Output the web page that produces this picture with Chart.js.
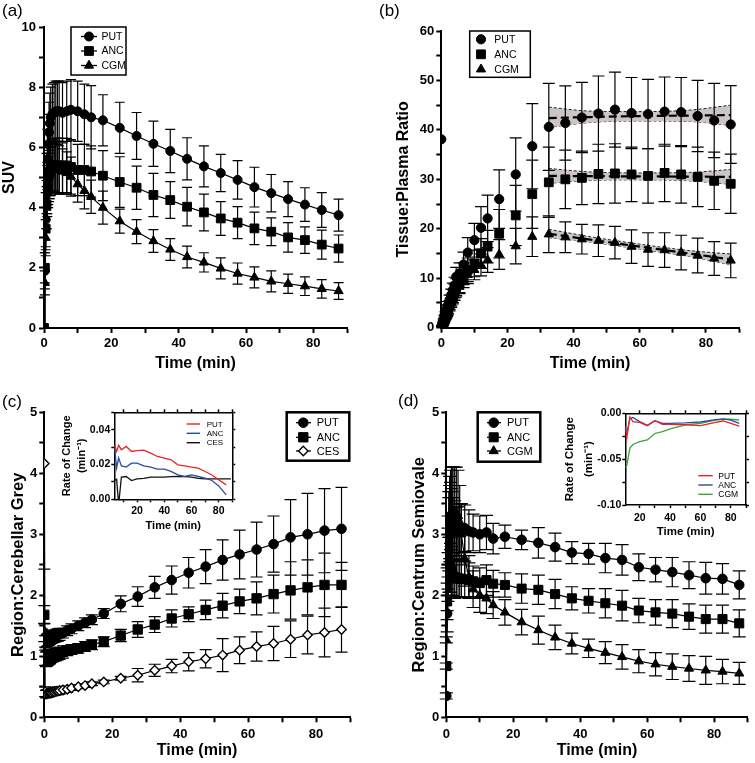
<!DOCTYPE html>
<html><head><meta charset="utf-8">
<script src="https://cdn.jsdelivr.net/npm/chart.js"></script>
<style>
body{margin:0;background:#fff;width:755px;height:763px;position:relative;overflow:hidden;font-family:'Liberation Sans',Arial,sans-serif}
canvas{position:absolute}
.lbl{position:absolute;font-size:17px;line-height:17px;color:#000}
</style></head><body>
<canvas id="ca" width="377" height="380" style="left:0;top:0"></canvas>
<canvas id="cb" width="378" height="380" style="left:377px;top:0"></canvas>
<canvas id="cc" width="377" height="383" style="left:0;top:380px"></canvas>
<canvas id="cd" width="378" height="383" style="left:377px;top:380px"></canvas>
<canvas id="ic" width="185" height="140" style="left:55px;top:395px"></canvas>
<canvas id="id" width="195" height="150" style="left:560px;top:395px"></canvas>
<div class="lbl" style="left:2px;top:2px">(a)</div>
<div class="lbl" style="left:379px;top:2px">(b)</div>
<div class="lbl" style="left:2px;top:393px">(c)</div>
<div class="lbl" style="left:398px;top:392px">(d)</div>
<script>
// ---------------- DATA ----------------
const T = [0, 0.25, 0.5, 0.75, 1, 1.25, 1.5, 1.75, 2, 2.5, 3, 3.5, 4, 4.5, 5.5, 6.75, 8, 10, 12, 14, 17.5, 22.5, 27.5, 32.5, 37.5, 42.5, 47.5, 52.5, 57.5, 62.5, 67.5, 72.5, 77.5, 82.5, 87.5];
const seriesNames = ['PUT', 'ANC', 'CGM'];
const seriesNamesC = ['PUT', 'ANC', 'CES'];

// (a) SUV
const suvPUT = [0, 1.9, 3.6, 4.8, 5.6, 6.1, 6.5, 6.8, 7.0, 7.1, 7.15, 7.2, 7.2, 7.2, 7.15, 7.2, 7.25, 7.2, 7.1, 7.0, 6.9, 6.65, 6.38, 6.12, 5.88, 5.62, 5.37, 5.15, 4.92, 4.68, 4.48, 4.28, 4.1, 3.92, 3.75];
const suvPUTerr = [0, 0.6, 0.9, 1.0, 1.0, 1.0, 1.0, 1.0, 1.0, 1.0, 1.0, 1.0, 1.0, 1.0, 1.0, 1.0, 1.0, 1.0, 1.0, 1.05, 0.85, 0.85, 0.78, 0.75, 0.72, 0.7, 0.68, 0.62, 0.64, 0.66, 0.62, 0.58, 0.56, 0.58, 0.53];
const suvANC = [0, 2.0, 3.3, 4.1, 4.6, 4.9, 5.1, 5.2, 5.3, 5.35, 5.4, 5.4, 5.4, 5.4, 5.4, 5.4, 5.35, 5.25, 5.25, 5.2, 5.06, 4.85, 4.66, 4.42, 4.25, 4.03, 3.84, 3.64, 3.5, 3.31, 3.2, 3.01, 2.92, 2.77, 2.64];
const suvANCerr = [0, 0.5, 0.7, 0.8, 0.9, 0.9, 0.9, 0.9, 0.9, 0.9, 0.9, 0.9, 0.9, 0.9, 0.9, 0.9, 0.9, 0.85, 0.85, 0.85, 0.83, 0.84, 0.72, 0.72, 0.61, 0.64, 0.61, 0.56, 0.53, 0.54, 0.46, 0.49, 0.44, 0.48, 0.45];
const suvCGM = [0, 1.5, 3.0, 4.0, 4.6, 4.9, 5.1, 5.2, 5.3, 5.35, 5.35, 5.3, 5.3, 5.25, 5.2, 5.15, 5.03, 4.78, 4.56, 4.36, 4.0, 3.55, 3.2, 2.89, 2.61, 2.36, 2.18, 1.98, 1.81, 1.68, 1.55, 1.47, 1.39, 1.3, 1.23];
const suvCGMerr = [0, 0.4, 0.6, 0.7, 0.8, 0.8, 0.8, 0.8, 0.8, 0.8, 0.8, 0.8, 0.8, 0.8, 0.75, 0.7, 0.65, 0.6, 0.6, 0.55, 0.55, 0.4, 0.4, 0.38, 0.36, 0.36, 0.32, 0.35, 0.35, 0.35, 0.35, 0.32, 0.31, 0.31, 0.28];

// (b) Tissue:Plasma ratio
const tpPUT = [38.1, 0.4, 0.9, 1.5, 2.1, 2.7, 3.3, 3.9, 4.5, 5.6, 6.6, 7.6, 8.6, 10.3, 11.0, 12.8, 15.2, 17.7, 20.2, 22.1, 26.0, 31.0, 36.7, 40.6, 41.4, 42.5, 43.3, 44.1, 43.4, 43.2, 43.7, 43.6, 42.8, 41.9, 41.1];
const tpPUTerr = [0, 0.1, 0.2, 0.3, 0.4, 0.5, 0.6, 0.7, 0.8, 1.0, 1.2, 1.4, 1.6, 1.9, 2.1, 2.5, 3.0, 3.4, 4.3, 4.7, 5.9, 7.4, 8.6, 8.8, 7.5, 7.1, 7.6, 7.6, 7.2, 7.0, 7.0, 7.0, 7.2, 7.5, 7.85];
const tpANC = [1.5, 0.3, 0.7, 1.2, 1.7, 2.2, 2.7, 3.2, 3.7, 4.6, 5.5, 6.4, 7.3, 8.2, 9.0, 10.9, 11.7, 13.0, 15.0, 16.4, 19.0, 22.7, 27.0, 29.4, 30.0, 30.3, 31.1, 31.2, 31.0, 30.7, 31.3, 31.0, 30.5, 29.7, 29.1];
const tpANCerr = [0, 0.1, 0.2, 0.3, 0.4, 0.5, 0.6, 0.7, 0.8, 0.9, 1.1, 1.3, 1.5, 1.7, 1.9, 2.2, 2.4, 2.7, 3.0, 3.3, 4.9, 6.1, 6.9, 7.1, 5.9, 5.4, 6.0, 6.0, 5.5, 5.5, 5.8, 5.8, 6.0, 5.8, 6.0];
const tpCGM = [0.8, 0.2, 0.6, 1.0, 1.5, 2.0, 2.4, 2.9, 3.3, 4.2, 5.0, 5.8, 6.6, 7.4, 8.3, 9.7, 10.7, 11.7, 12.7, 13.7, 14.8, 16.5, 18.4, 18.9, 18.3, 17.9, 17.6, 17.2, 16.4, 15.8, 15.7, 15.2, 14.6, 14.0, 13.6];
const tpCGMerr = [0, 0.1, 0.15, 0.2, 0.3, 0.4, 0.5, 0.6, 0.7, 0.8, 0.9, 1.0, 1.1, 1.2, 1.4, 1.6, 1.8, 2.0, 2.2, 2.5, 3.0, 3.6, 4.0, 3.7, 3.1, 3.0, 3.2, 3.3, 3.4, 3.4, 3.5, 3.5, 3.5, 3.4, 3.5];
const fitT = [32.5, 45, 60, 75, 87.5];
const putFit = [42.4, 42.6, 42.8, 42.9, 43.0];
const putUpper = [44.6, 43.8, 43.7, 44.0, 45.0];
const putLower = [40.5, 41.5, 41.8, 41.7, 40.9];
const ancFit = [30.7, 30.65, 30.6, 30.55, 30.5];
const ancUpper = [32.2, 31.5, 31.3, 31.4, 32.0];
const ancLower = [29.2, 29.8, 29.9, 29.7, 29.0];
const cgmFit = [19.0, 17.8, 16.4, 15.0, 13.8];
const cgmUpper = [19.9, 18.4, 16.9, 15.6, 14.9];
const cgmLower = [18.2, 17.3, 15.9, 14.4, 12.7];

// (c) Region:Cerebellar Grey
const cgPUT = [1.39, 1.22, 1.24, 1.26, 1.27, 1.28, 1.29, 1.3, 1.31, 1.32, 1.33, 1.34, 1.35, 1.36, 1.38, 1.42, 1.45, 1.5, 1.55, 1.6, 1.70, 1.86, 1.98, 2.13, 2.25, 2.37, 2.47, 2.58, 2.67, 2.75, 2.84, 2.95, 3.0, 3.06, 3.09];
const cgPUTerr = [0.15, 0.12, 0.1, 0.1, 0.1, 0.1, 0.1, 0.1, 0.1, 0.1, 0.1, 0.1, 0.1, 0.1, 0.08, 0.08, 0.08, 0.08, 0.08, 0.08, 0.08, 0.13, 0.16, 0.18, 0.23, 0.25, 0.28, 0.33, 0.4, 0.45, 0.46, 0.62, 0.67, 0.69, 0.68];
const cgANC = [1.68, 1.0, 0.95, 0.96, 0.97, 0.98, 0.99, 1.0, 1.0, 1.01, 1.02, 1.03, 1.04, 1.05, 1.07, 1.09, 1.11, 1.13, 1.16, 1.19, 1.24, 1.34, 1.44, 1.52, 1.62, 1.69, 1.76, 1.83, 1.9, 1.95, 2.02, 2.08, 2.13, 2.17, 2.17];
const cgANCerr = [0.15, 0.15, 0.12, 0.12, 0.12, 0.12, 0.12, 0.12, 0.1, 0.1, 0.1, 0.1, 0.1, 0.1, 0.1, 0.08, 0.08, 0.08, 0.08, 0.08, 0.08, 0.1, 0.13, 0.13, 0.14, 0.12, 0.16, 0.2, 0.2, 0.27, 0.31, 0.47, 0.45, 0.52, 0.37];
const cgCES = [4.16, 0.42, 0.38, 0.39, 0.39, 0.4, 0.4, 0.41, 0.41, 0.42, 0.42, 0.43, 0.43, 0.44, 0.45, 0.46, 0.48, 0.5, 0.52, 0.55, 0.58, 0.64, 0.69, 0.77, 0.84, 0.91, 0.96, 1.02, 1.1, 1.16, 1.21, 1.28, 1.35, 1.39, 1.44];
const cgCESerr = [1.73, 0.08, 0.06, 0.06, 0.06, 0.06, 0.06, 0.06, 0.06, 0.06, 0.06, 0.06, 0.06, 0.06, 0.05, 0.05, 0.04, 0.03, 0.03, 0.03, 0.03, 0.03, 0.11, 0.1, 0.11, 0.15, 0.15, 0.27, 0.22, 0.24, 0.28, 0.3, 0.31, 0.4, 0.37];

// (d) Region:Centrum Semiovale
const csPUT = [0.35, 1.7, 2.6, 3.0, 3.2, 3.3, 3.25, 3.2, 3.15, 3.1, 3.05, 3.05, 3.1, 3.1, 3.1, 3.05, 3.03, 3.0, 3.03, 2.93, 2.96, 2.91, 2.86, 2.79, 2.7, 2.68, 2.61, 2.58, 2.46, 2.42, 2.38, 2.33, 2.28, 2.27, 2.17];
const csPUTerr = [0.05, 0.3, 0.5, 0.6, 0.6, 0.55, 0.5, 0.5, 0.45, 0.45, 0.4, 0.4, 0.4, 0.4, 0.38, 0.35, 0.3, 0.3, 0.28, 0.25, 0.19, 0.16, 0.25, 0.23, 0.18, 0.17, 0.24, 0.25, 0.22, 0.2, 0.24, 0.22, 0.26, 0.25, 0.23];
const csANC = [0.84, 1.9, 2.3, 2.5, 2.5, 2.45, 2.4, 2.35, 2.3, 2.3, 2.28, 2.28, 2.27, 2.27, 2.26, 2.25, 2.23, 2.2, 2.25, 2.19, 2.17, 2.11, 2.09, 2.02, 1.95, 1.91, 1.87, 1.83, 1.75, 1.72, 1.7, 1.65, 1.61, 1.61, 1.54];
const csANCerr = [0.05, 0.3, 0.4, 0.45, 0.45, 0.4, 0.4, 0.35, 0.35, 0.35, 0.3, 0.3, 0.3, 0.3, 0.3, 0.28, 0.25, 0.25, 0.25, 0.22, 0.2, 0.24, 0.24, 0.24, 0.19, 0.2, 0.24, 0.25, 0.2, 0.21, 0.23, 0.21, 0.23, 0.23, 0.22];
const csCGM = [1.27, 2.1, 2.8, 3.1, 3.25, 3.3, 3.35, 3.35, 3.35, 3.35, 3.35, 3.3, 3.2, 3.0, 2.6, 2.3, 2.1, 2.0, 1.95, 1.84, 1.72, 1.56, 1.43, 1.31, 1.21, 1.13, 1.06, 0.99, 0.92, 0.87, 0.83, 0.8, 0.77, 0.75, 0.72];
const csCGMerr = [0.05, 0.35, 0.5, 0.6, 0.7, 0.75, 0.75, 0.75, 0.75, 0.75, 0.75, 0.75, 0.6, 0.5, 0.45, 0.35, 0.3, 0.28, 0.25, 0.22, 0.21, 0.21, 0.23, 0.2, 0.17, 0.15, 0.18, 0.2, 0.19, 0.19, 0.21, 0.21, 0.23, 0.2, 0.18];

// insets: rate of change
const rateTC = [3.5, 5, 6.5, 8.5, 12, 16, 20, 25, 30, 35, 40, 45, 50, 55, 60, 65, 70, 75, 80, 85.5];
const rateTC_CES = [3.5, 5, 6.5, 8.5, 12, 16, 20, 25, 30, 35, 40, 45, 50, 55, 60, 65, 70, 75, 80, 89];
const ratePUT_C = [0.0313, 0.0275, 0.031, 0.0285, 0.0304, 0.0275, 0.028, 0.0283, 0.0265, 0.0246, 0.0237, 0.0227, 0.0198, 0.0192, 0.0185, 0.0179, 0.016, 0.014, 0.0112, 0.0083];
const rateANC_C = [0.030, 0.018, 0.0237, 0.0192, 0.0185, 0.0208, 0.0208, 0.0192, 0.0185, 0.0173, 0.0173, 0.016, 0.014, 0.0131, 0.014, 0.0131, 0.0121, 0.0108, 0.0077, 0.0025];
const rateCES_C = [0.011, 0.0115, -0.003, 0.0128, 0.0131, 0.0108, 0.0117, 0.012, 0.0127, 0.0127, 0.0127, 0.013, 0.0131, 0.013, 0.0127, 0.012, 0.0117, 0.0117, 0.0117, 0.0117];
const rateTD = [10.5, 11.5, 13.5, 15.5, 20, 25, 30, 35, 40, 50, 60, 70, 75, 80, 85.5];
const ratePUT_D = [-0.014, -0.027, -0.004, -0.009, -0.0098, -0.0135, -0.008, -0.012, -0.012, -0.0125, -0.0135, -0.0098, -0.0084, -0.011, -0.014];
const rateANC_D = [-0.018, -0.022, -0.006, -0.0045, -0.009, -0.013, -0.008, -0.011, -0.011, -0.0105, -0.0095, -0.007, -0.006, -0.0075, -0.011];
const rateCGM_D = [-0.059, -0.057, -0.038, -0.034, -0.031, -0.029, -0.022, -0.02, -0.017, -0.0127, -0.011, -0.0075, -0.0065, -0.0065, -0.0073];

// ---------------- HELPERS ----------------
const FONT = "'Liberation Sans', Arial, Helvetica, sans-serif";
Chart.defaults.font.family = FONT;
Chart.defaults.color = '#000';
const toXY = (xs, ys) => xs.map((x, i) => ({x: x, y: ys[i]}));
const isMult = (v, s) => Math.abs(v / s - Math.round(v / s)) < 1e-6;

function mkAxis(o) {
  const vals = [];
  for (let i = 0; ; i++) { const v = +(o.first + i * o.step).toFixed(6); if (v > o.max + 1e-9) break; vals.push(v); }
  const horiz = (o.pos === 'bottom' || o.pos === 'top');
  return {
    type: 'linear', position: o.pos, min: o.min, max: o.max,
    border: {display: true, color: '#000', width: o.bw},
    grid: {display: true, drawOnChartArea: false, drawTicks: true, tickLength: o.tl, tickWidth: o.bw, tickColor: '#000'},
    ticks: {display: o.labels !== false, color: '#000', autoSkip: false, maxRotation: 0, minRotation: 0,
      padding: o.tp || 0, font: {family: FONT, size: o.fs || 13, weight: 'bold'},
      callback: (v) => (o.labelStep && isMult(v, o.labelStep)) ? o.fmt(v) : ''},
    title: o.title ? {display: true, text: o.title, color: '#000',
      font: {family: FONT, size: o.tfs, weight: 'bold', lineHeight: o.tlh || 1.2},
      padding: {top: o.ttop || 0, bottom: o.tbot || 0}} : {display: false},
    afterBuildTicks: (s) => { s.ticks = vals.map(v => ({value: v})); },
    afterFit: (s) => { if (horiz) s.height = o.size; else s.width = o.size; }
  };
}

function drawMarker(ctx, style, x, y, r, fill, lw) {
  ctx.save();
  ctx.beginPath();
  if (style === 'circle') ctx.arc(x, y, r, 0, Math.PI * 2);
  else if (style === 'rect') { const s = Math.SQRT1_2 * r; ctx.rect(x - s, y - s, 2 * s, 2 * s); }
  else if (style === 'triangle') {
    ctx.moveTo(x, y - r);
    ctx.lineTo(x + Math.sin(2 * Math.PI / 3) * r, y - Math.cos(2 * Math.PI / 3) * r);
    ctx.lineTo(x + Math.sin(4 * Math.PI / 3) * r, y - Math.cos(4 * Math.PI / 3) * r);
    ctx.closePath();
  } else if (style === 'rectRot') {
    ctx.moveTo(x - r, y); ctx.lineTo(x, y - r); ctx.lineTo(x + r, y); ctx.lineTo(x, y + r); ctx.closePath();
  }
  ctx.fillStyle = fill || '#000'; ctx.fill();
  ctx.lineWidth = lw || 1; ctx.strokeStyle = '#000'; ctx.stroke();
  ctx.restore();
}

function errorBarPlugin(cap, width) {
  return {
    id: 'errorBars',
    beforeDatasetDraw(chart, args) {
      const ds = chart.data.datasets[args.index];
      if (!ds.errors) return;
      const meta = args.meta, ctx = chart.ctx, ys = chart.scales[meta.yAxisID], a = chart.chartArea;
      ctx.save();
      ctx.beginPath(); ctx.rect(a.left - 20, a.top, a.right - a.left + 40, a.bottom - a.top); ctx.clip();
      ctx.strokeStyle = '#000'; ctx.lineWidth = width;
      meta.data.forEach((pt, i) => {
        const e = ds.errors[i]; if (!e) return;
        const v = ds.data[i].y, x = pt.x;
        const y1 = ys.getPixelForValue(v + e), y2 = ys.getPixelForValue(v - e);
        ctx.beginPath();
        ctx.moveTo(x, y1); ctx.lineTo(x, y2);
        ctx.moveTo(x - cap, y1); ctx.lineTo(x + cap, y1);
        ctx.moveTo(x - cap, y2); ctx.lineTo(x + cap, y2);
        ctx.stroke();
      });
      ctx.restore();
    }
  };
}

function legendPlugin(cfg) {
  return {
    id: 'boxLegend',
    afterDraw(chart) {
      const ctx = chart.ctx;
      ctx.save();
      if (cfg.box) { ctx.lineWidth = cfg.box.lw; ctx.strokeStyle = '#000'; ctx.strokeRect(cfg.box.x, cfg.box.y, cfg.box.w, cfg.box.h); }
      cfg.items.forEach(it => {
        if (cfg.line) {
          ctx.strokeStyle = it.color || '#000'; ctx.lineWidth = cfg.lineW || 1.3;
          ctx.beginPath(); ctx.moveTo(cfg.line[0], it.y); ctx.lineTo(cfg.line[1], it.y); ctx.stroke();
        }
        if (it.marker) drawMarker(ctx, it.marker, cfg.mx, it.y, it.r, it.fill, it.lw);
        ctx.font = cfg.font; ctx.textBaseline = 'middle'; ctx.textAlign = 'left'; ctx.fillStyle = '#000';
        ctx.fillText(it.label, cfg.tx, it.y + 0.5);
      });
      ctx.restore();
    }
  };
}

function ptDs(label, xs, ys, errs, style, r, extra) {
  return Object.assign({
    label: label, data: toXY(xs, ys), errors: errs,
    borderColor: '#000', backgroundColor: '#000', borderWidth: 1.2,
    pointStyle: style, pointRadius: r, pointBackgroundColor: '#000', pointBorderColor: '#000', pointBorderWidth: 1,
    tension: 0, fill: false, order: 0
  }, extra || {});
}

const baseOpts = (padding, scales) => ({
  responsive: false, animation: false, devicePixelRatio: 1, events: [],
  layout: {padding: padding},
  plugins: {legend: {display: false}, tooltip: {enabled: false}, title: {display: false}},
  scales: scales
});

const xMain = (size, tp, tbot) => mkAxis({pos: 'bottom', min: 0, max: 90, first: 0, step: 10, labelStep: 20, fmt: v => String(v),
  bw: 2, tl: 5, tp: tp, fs: 13, title: 'Time (min)', tfs: 16, tbot: tbot, size: size});

// ---------------- (a) ----------------
new Chart(document.getElementById('ca'), {
  type: 'line',
  data: {datasets: [
    ptDs(seriesNames[0], T, suvPUT, suvPUTerr, 'circle', 4.5),
    ptDs(seriesNames[1], T, suvANC, suvANCerr, 'rect', 6.2),
    ptDs(seriesNames[2], T, suvCGM, suvCGMerr, 'triangle', 5.3)
  ]},
  options: baseOpts({left: 0, top: 27, right: 30, bottom: 0}, {
    x: xMain(52, 3, 7),
    y: mkAxis({pos: 'left', min: 0, max: 10, first: 0, step: 1, labelStep: 2, fmt: v => String(v),
      bw: 2, tl: 5, tp: 3, fs: 13, title: 'SUV', tfs: 16, ttop: 0, size: 44})
  }),
  plugins: [errorBarPlugin(5, 1.2), legendPlugin({
    box: {x: 71, y: 27, w: 55, h: 48, lw: 1.5}, line: [81, 97], mx: 89, tx: 101.5, font: '10.5px ' + FONT,
    items: [
      {label: seriesNames[0], y: 36.5, marker: 'circle', r: 4.5},
      {label: seriesNames[1], y: 51, marker: 'rect', r: 6.2},
      {label: seriesNames[2], y: 65.5, marker: 'triangle', r: 5.3}
    ]})]
});

// ---------------- (b) ----------------
const bandDs = (xs, ys, fill) => ({data: toXY(xs, ys), borderColor: '#222', borderWidth: 1, borderDash: [3, 2],
  pointRadius: 0, fill: fill, backgroundColor: '#cbc6c4', cubicInterpolationMode: 'monotone', order: 10});
const fitDs = (xs, ys) => ({data: toXY(xs, ys), borderColor: '#000', borderWidth: 2.2, borderDash: [8, 4],
  pointRadius: 0, fill: false, cubicInterpolationMode: 'monotone', order: 5});
new Chart(document.getElementById('cb'), {
  type: 'line',
  data: {datasets: [
    ptDs(seriesNames[0], T, tpPUT, tpPUTerr, 'circle', 4.6, {showLine: false}),
    ptDs(seriesNames[1], T, tpANC, tpANCerr, 'rect', 6.2, {showLine: false}),
    ptDs(seriesNames[2], T, tpCGM, tpCGMerr, 'triangle', 5.3, {showLine: false}),
    bandDs(fitT, putUpper, '+1'), bandDs(fitT, putLower, false), fitDs(fitT, putFit),
    bandDs(fitT, ancUpper, '+1'), bandDs(fitT, ancLower, false), fitDs(fitT, ancFit),
    bandDs(fitT, cgmUpper, '+1'), bandDs(fitT, cgmLower, false), fitDs(fitT, cgmFit)
  ]},
  options: baseOpts({left: 0, top: 31, right: 16, bottom: 0}, {
    x: xMain(52.3, 3, 7),
    y: mkAxis({pos: 'left', min: 0, max: 60, first: 0, step: 5, labelStep: 10, fmt: v => String(v),
      bw: 2, tl: 5, tp: 2, fs: 13, title: 'Tissue:Plasma Ratio', tfs: 16, ttop: 17, size: 64.3})
  }),
  plugins: [errorBarPlugin(6, 1.2), legendPlugin({
    box: {x: 92.7, y: 31, w: 60.6, h: 46.3, lw: 1.5}, mx: 104, tx: 117.3, font: '10.5px ' + FONT,
    items: [
      {label: seriesNames[0], y: 39.3, marker: 'circle', r: 4.6},
      {label: seriesNames[1], y: 54.3, marker: 'rect', r: 6.2},
      {label: seriesNames[2], y: 69.3, marker: 'triangle', r: 5.3}
    ]})]
});

// ---------------- (c) ----------------
new Chart(document.getElementById('cc'), {
  type: 'line',
  data: {datasets: [
    ptDs(seriesNamesC[0], T, cgPUT, cgPUTerr, 'circle', 4.8),
    ptDs(seriesNamesC[1], T, cgANC, cgANCerr, 'rect', 6.6),
    ptDs(seriesNamesC[2], T, cgCES, cgCESerr, 'rectRot', 4.7, {pointBackgroundColor: '#fff', pointBorderWidth: 1.4})
  ]},
  options: baseOpts({left: 0, top: 32.3, right: 27, bottom: 0}, {
    x: xMain(45.7, 4, 3),
    y: mkAxis({pos: 'left', min: 0, max: 5, first: 0, step: 0.5, labelStep: 1, fmt: v => String(v),
      bw: 2, tl: 5, tp: 2, fs: 13, title: 'Region:Cerebellar Grey', tfs: 16.5, ttop: 8.6, size: 44.3})
  }),
  plugins: [errorBarPlugin(6, 1.2), legendPlugin({
    box: {x: 286.7, y: 32.3, w: 62.6, h: 48.4, lw: 2.5}, line: [296, 311], mx: 303.3, tx: 316.7, font: '11px ' + FONT,
    items: [
      {label: seriesNamesC[0], y: 42.7, marker: 'circle', r: 4.8},
      {label: seriesNamesC[1], y: 57.3, marker: 'rect', r: 6.6},
      {label: seriesNamesC[2], y: 71, marker: 'rectRot', r: 4.7, fill: '#fff', lw: 1.4}
    ]})]
});

// ---------------- (d) ----------------
new Chart(document.getElementById('cd'), {
  type: 'line',
  data: {datasets: [
    ptDs(seriesNames[0], T, csPUT, csPUTerr, 'circle', 4.8),
    ptDs(seriesNames[1], T, csANC, csANCerr, 'rect', 6.4),
    ptDs(seriesNames[2], T, csCGM, csCGMerr, 'triangle', 5.3)
  ]},
  options: baseOpts({left: 0, top: 32.3, right: 4, bottom: 0}, {
    x: xMain(45.7, 4, 3),
    y: mkAxis({pos: 'left', min: 0, max: 5, first: 0, step: 0.5, labelStep: 1, fmt: v => String(v),
      bw: 2, tl: 5, tp: 2, fs: 13, title: 'Region:Centrum Semiovale', tfs: 16.5, ttop: 32.8, size: 69.3})
  }),
  plugins: [errorBarPlugin(6.5, 1.2), legendPlugin({
    box: {x: 100.7, y: 32.3, w: 62.6, h: 49.4, lw: 2.5}, line: [110, 124], mx: 116.7, tx: 130, font: '11px ' + FONT,
    items: [
      {label: seriesNames[0], y: 42.7, marker: 'circle', r: 4.8},
      {label: seriesNames[1], y: 57.3, marker: 'rect', r: 6.4},
      {label: seriesNames[2], y: 71, marker: 'triangle', r: 5.3}
    ]})]
});

// ---------------- insets ----------------
const RED = '#e8232b', BLUE = '#2b4c9e', GREEN = '#3ba53b', BLACK = '#111';
const lineDs = (label, xs, ys, color) => ({label: label, data: toXY(xs, ys), borderColor: color, borderWidth: 1.3,
  pointRadius: 0, fill: false, tension: 0});
const insetScales = (o) => ({
  x: mkAxis({pos: 'bottom', min: o.xmin, max: 90, first: o.xfirst, step: 10, labelStep: 20, fmt: v => String(v),
    bw: 1.5, tl: 3, tp: o.xtp, fs: 10.5, title: 'Time (min)', tfs: o.tfs, tbot: o.xtb, size: o.xsize}),
  x2: mkAxis({pos: 'top', min: o.xmin, max: 90, first: o.xfirst, step: 10, labels: false, bw: 1.5, tl: 3, size: 3}),
  y: mkAxis({pos: 'left', min: o.ymin, max: o.ymax, first: o.ymin, step: o.ystep, labelStep: o.ylab, fmt: v => v.toFixed(2),
    bw: 1.5, tl: 3, tp: 1, fs: 10.5, title: ['Rate of Change', '(min\u207B\u00B9)'], tfs: o.tfs, tlh: o.tlh, ttop: o.yttop, size: o.ysize}),
  y2: mkAxis({pos: 'right', min: o.ymin, max: o.ymax, first: o.ymin, step: o.ystep, labels: false, bw: 1.5, tl: 3, size: 3})
});

new Chart(document.getElementById('ic'), {
  type: 'line',
  data: {datasets: [
    lineDs(seriesNamesC[0], rateTC, ratePUT_C, RED),
    lineDs(seriesNamesC[1], rateTC, rateANC_C, BLUE),
    lineDs(seriesNamesC[2], rateTC_CES, rateCES_C, BLACK)
  ]},
  options: baseOpts({left: 0, top: 14.3, right: 4.7, bottom: 0}, insetScales({
    xmin: 3.3, xfirst: 10, xtp: 3, xtb: 2.9, xsize: 35.7, tfs: 11, tlh: 1.35, yttop: 4.8,
    ymin: 0, ymax: 0.05, ystep: 0.01, ylab: 0.02, ysize: 59.3})),
  plugins: [legendPlugin({
    line: [131.7, 145], tx: 151.7, font: '8px ' + FONT, lineW: 1.4,
    items: [
      {label: seriesNamesC[0], y: 29, color: RED},
      {label: seriesNamesC[1], y: 38.3, color: BLUE},
      {label: seriesNamesC[2], y: 47.7, color: BLACK}
    ]})]
});

new Chart(document.getElementById('id'), {
  type: 'line',
  data: {datasets: [
    lineDs(seriesNames[0], rateTD, ratePUT_D, RED),
    lineDs(seriesNames[1], rateTD, rateANC_D, BLUE),
    lineDs(seriesNames[2], rateTD, rateCGM_D, GREEN)
  ]},
  options: baseOpts({left: 0, top: 15.3, right: 6, bottom: 0}, insetScales({
    xmin: 10.5, xfirst: 20, xtp: 3.5, xtb: 6.4, xsize: 40, tfs: 11.5, tlh: 1.57, yttop: 1.3,
    ymin: -0.1, ymax: 0, ystep: 0.025, ylab: 0.05, ysize: 65.3})),
  plugins: [legendPlugin({
    line: [138.3, 152.7], tx: 158.3, font: '8.5px ' + FONT, lineW: 1.4,
    items: [
      {label: seriesNames[0], y: 80.7, color: RED},
      {label: seriesNames[1], y: 90, color: BLUE},
      {label: seriesNames[2], y: 99.3, color: GREEN}
    ]})]
});
</script>
</body></html>
